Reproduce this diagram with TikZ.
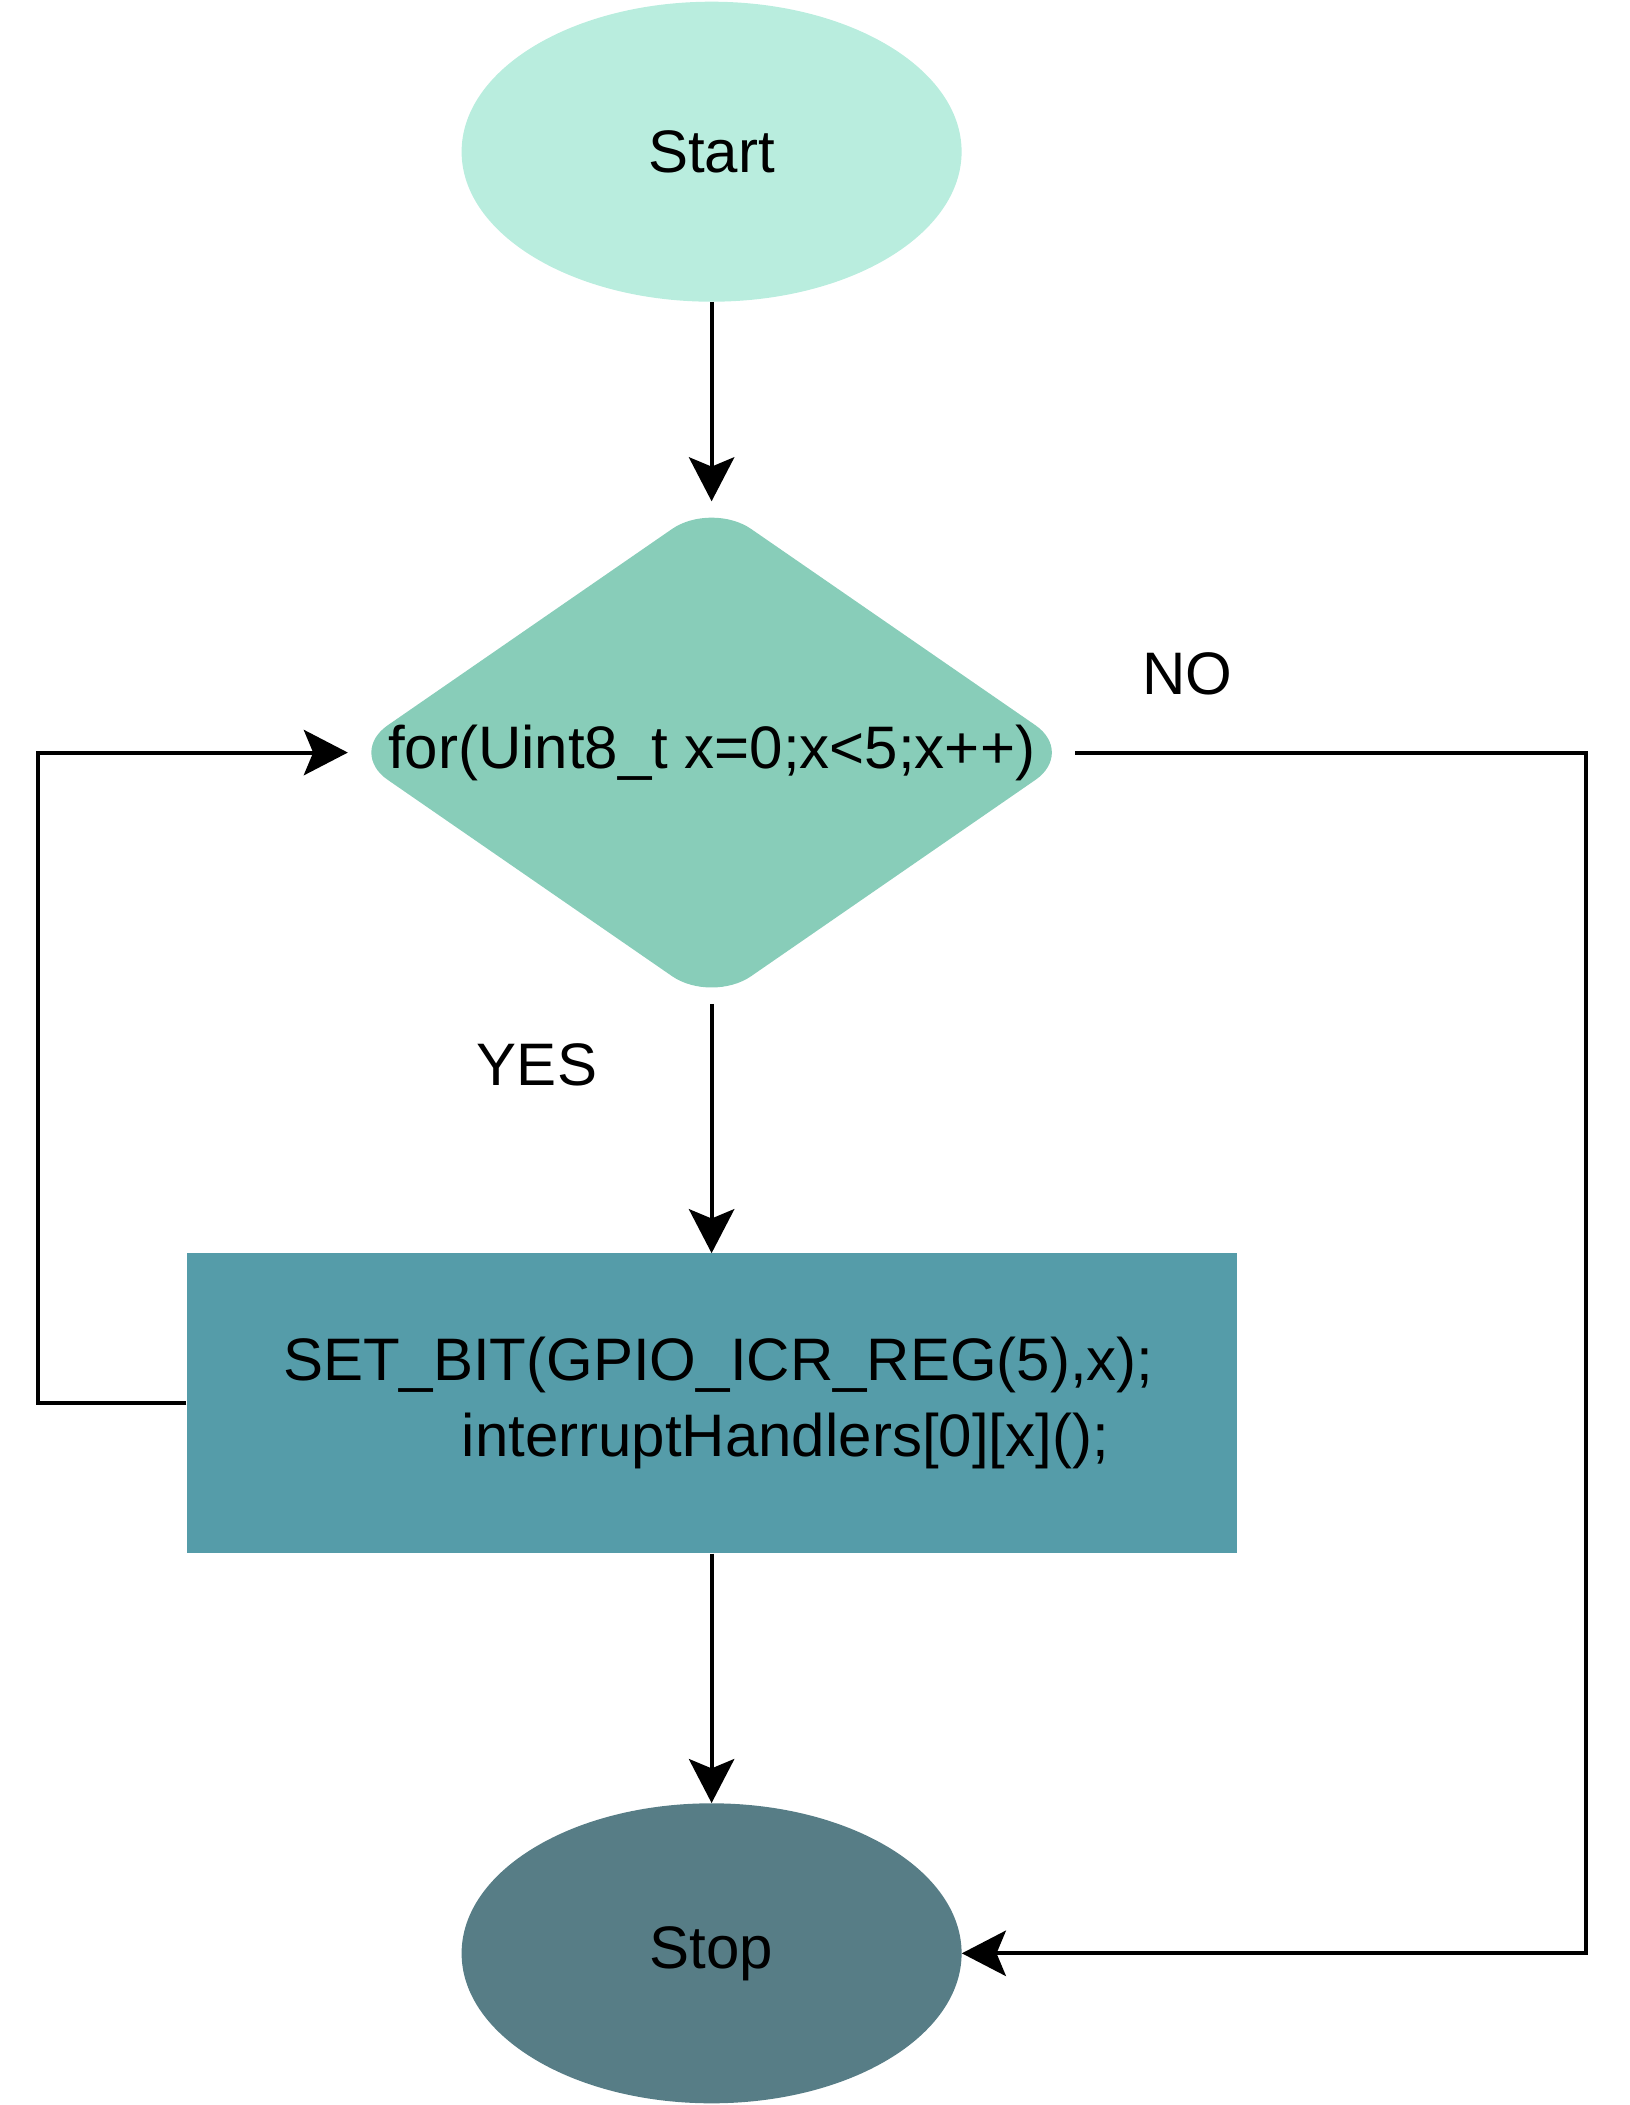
\documentclass[tikz,border=0pt]{standalone}
\usepackage{fontspec}
\setmainfont{Liberation Sans}
\usetikzlibrary{shapes.geometric, arrows.meta, positioning}

\definecolor{startfill}{HTML}{B9EDDE}
\definecolor{condfill}{HTML}{88CDB9}
\definecolor{procfill}{HTML}{559CA9}
\definecolor{stopfill}{HTML}{577D86}

\begin{document}
\begin{tikzpicture}[
  x=0.75pt, y=-0.75pt,
  node distance=187pt,
  terminal/.style={ellipse, minimum width=375pt, minimum height=225pt, inner sep=0pt, font=\fontsize{45}{54}\selectfont},
  decision/.style={diamond, aspect=1.45, fill=condfill, rounded corners=36pt, minimum width=545.25pt, minimum height=376.5pt, inner sep=-3pt, font=\fontsize{45}{54}\selectfont},
  process/.style={rectangle, fill=procfill, minimum width=787.5pt, minimum height=225pt, align=left, font=\fontsize{45}{57}\selectfont},
  lbl/.style={font=\fontsize{45}{54}\selectfont},
  flow/.style={-{Stealth[length=33pt, width=34pt, inset=7pt]}, line width=3pt}
]
\useasboundingbox (0,0) rectangle (1630,2105);

\node[terminal, fill=startfill] (start) at (711.6,151.7) {Start};
\node[decision, below=149.5pt of start] (cond) {for(Uint8\_t x=0;x<5;x++)};
\node[process, below=of cond] (proc) {\hspace*{10pt}SET\_BIT(GPIO\_ICR\_REG(5),x);\\\hspace*{144pt}interruptHandlers[0][x]();};
\node[terminal, fill=stopfill, below=of proc] (stop) {Stop};

\coordinate (loopL) at (37.6,0);
\coordinate (loopR) at (1586,0);

\draw[flow] (start) -- (cond);
\draw[flow] (cond) -- (proc);
\draw[flow] (proc) -- (stop);
\draw[flow] (proc.west) -- (proc.west -| loopL) |- (cond.west);
\draw[flow] (cond.east) -- (cond.east -| loopR) |- (stop.east);

\node[lbl] (no) at (1187,674) {NO};
\node[lbl] (yes) at (537,1065) {YES};
\end{tikzpicture}
\end{document}
